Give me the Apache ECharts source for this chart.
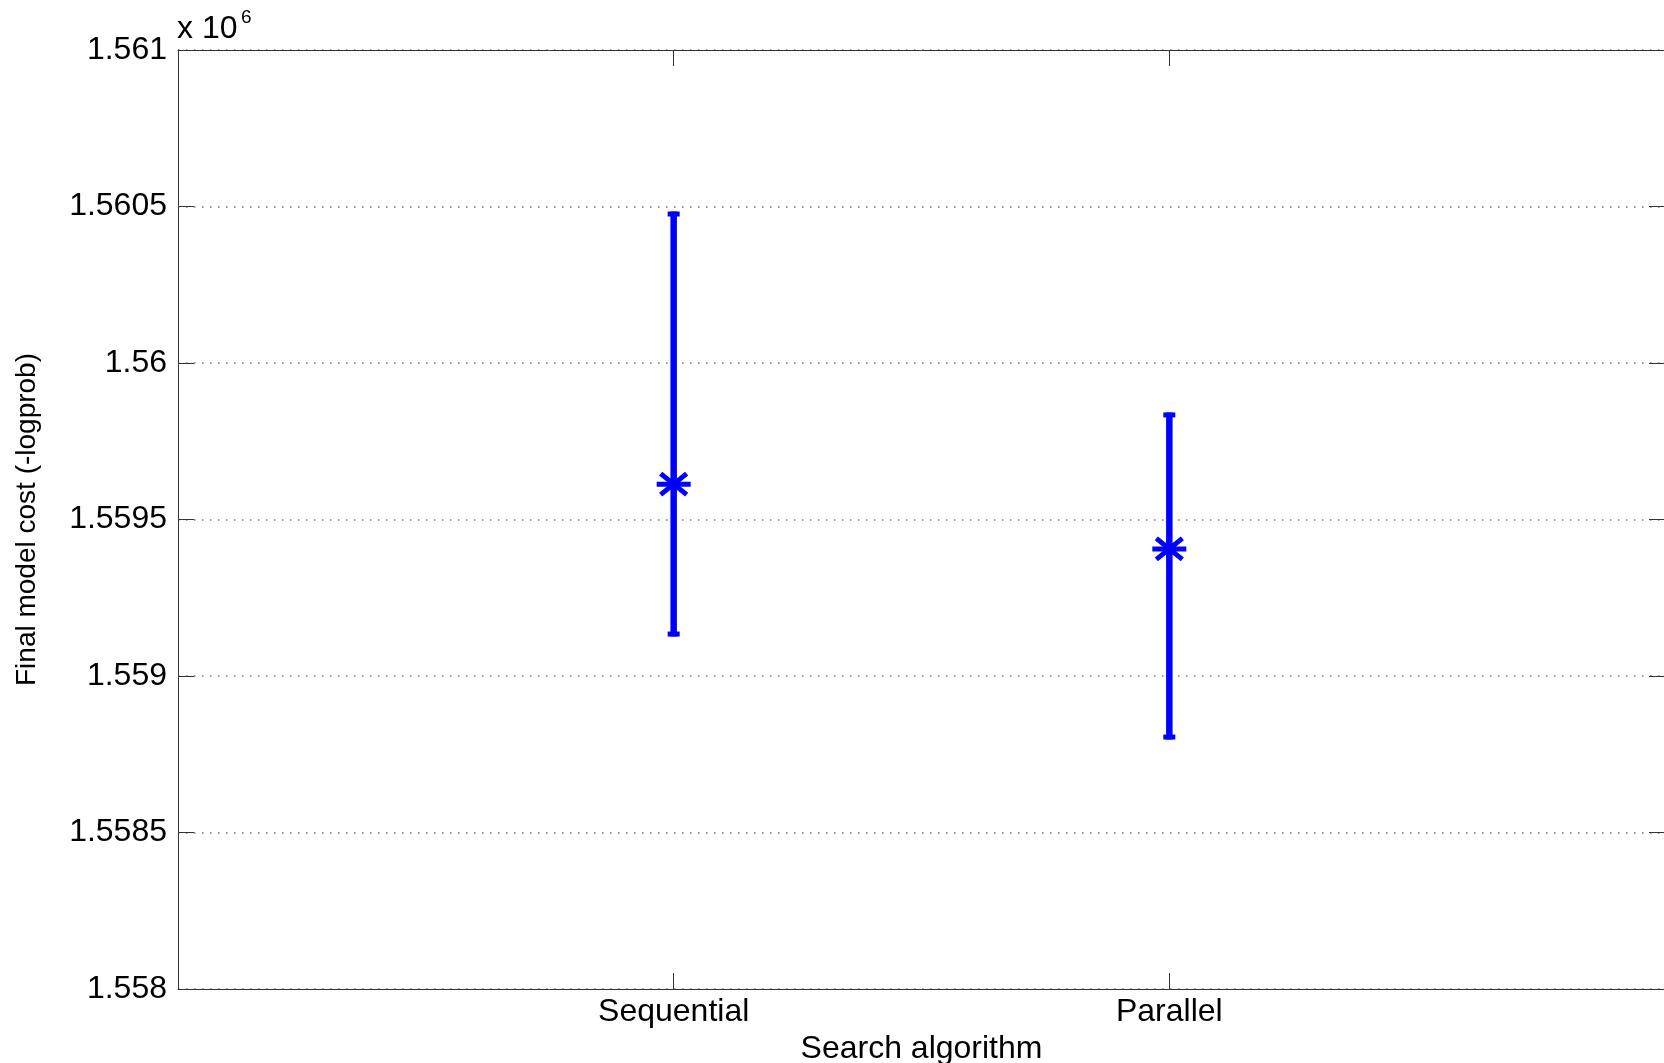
<!DOCTYPE html>
<html>
<head>
<meta charset="utf-8">
<script src="https://cdn.jsdelivr.net/npm/echarts@6/dist/echarts.min.js"></script>
<style>
html,body{margin:0;padding:0;background:#fff;}
#c{width:1664px;height:1063px;}
</style>
</head>
<body>
<div id="c"></div>
<script>
const categories = ['Sequential', 'Parallel'];
const xPositions = [1, 2];
const means = [1559613, 1559406];
const upper = [1560476, 1559834];
const lower = [1559134, 1558805];
const yTicks = [1558000, 1558500, 1559000, 1559500, 1560000, 1560500, 1561000];

const FONT = '"Liberation Sans", Arial, sans-serif';
const blue = '#0000ff';
const axisColor = '#333333';

const data = xPositions.map((x, i) => [x, means[i], lower[i], upper[i]]);

const chart = echarts.init(document.getElementById('c'));

function catLabel(v) {
  const idx = xPositions.indexOf(v);
  return idx >= 0 ? categories[idx] : '';
}
function yLabel(v) {
  return parseFloat((v / 1e6).toFixed(4)).toString();
}

chart.setOption({
  animation: false,
  backgroundColor: '#ffffff',
  grid: { left: 178, top: 50, right: -1, bottom: 74, containLabel: false, outerBoundsMode: 'none' },
  xAxis: [
    {
      type: 'value', min: 0, max: 3, interval: 1, position: 'bottom',
      name: 'Search algorithm', nameLocation: 'middle', nameGap: 42,
      nameTextStyle: { fontFamily: FONT, fontSize: 32, color: '#000' },
      axisLine: { show: true, onZero: false, lineStyle: { color: axisColor, width: 1 } },
      axisTick: { show: true, inside: true, length: 16, customValues: xPositions, lineStyle: { color: axisColor, width: 1 } },
      axisLabel: { show: true, customValues: xPositions, formatter: catLabel, fontFamily: FONT, fontSize: 32, color: '#000', margin: 7 },
      splitLine: { show: false }
    },
    {
      type: 'value', min: 0, max: 3, interval: 1, position: 'top',
      axisLine: { show: true, onZero: false, lineStyle: { color: axisColor, width: 1 } },
      axisTick: { show: true, inside: true, length: 16, customValues: xPositions, lineStyle: { color: axisColor, width: 1 } },
      axisLabel: { show: false },
      splitLine: { show: false }
    }
  ],
  yAxis: [
    {
      type: 'value', min: yTicks[0], max: yTicks[yTicks.length - 1], interval: 500, position: 'left',
      name: 'Final model cost (-logprob)', nameLocation: 'middle', nameGap: 137, nameRotate: 90,
      nameTextStyle: { fontFamily: FONT, fontSize: 28, color: '#000' },
      axisLine: { show: true, onZero: false, lineStyle: { color: axisColor, width: 1 } },
      axisTick: { show: true, inside: true, length: 16, lineStyle: { color: axisColor, width: 1 } },
      axisLabel: { show: true, inside: false, formatter: yLabel, fontFamily: FONT, fontSize: 32, color: '#000', margin: 11 },
      splitLine: { show: true, lineStyle: { color: '#777777', width: 1.5, type: [1.5, 6.5] } }
    },
    {
      type: 'value', min: yTicks[0], max: yTicks[yTicks.length - 1], interval: 500, position: 'right',
      axisLine: { show: true, onZero: false, lineStyle: { color: axisColor, width: 1 } },
      axisTick: { show: true, inside: true, length: 16, lineStyle: { color: axisColor, width: 1 } },
      axisLabel: { show: false },
      splitLine: { show: false }
    }
  ],
  graphic: [
    { type: 'text', left: 177, top: 13, style: { text: 'x 10', fontFamily: FONT, fontSize: 32, fill: '#000' } },
    { type: 'text', left: 241, top: 8, style: { text: '6', fontFamily: FONT, fontSize: 19, fill: '#000' } }
  ],
  series: [{
    type: 'custom',
    xAxisIndex: 0,
    yAxisIndex: 0,
    encode: { x: 0, y: [1, 2, 3] },
    data: data,
    renderItem: function (params, api) {
      const x = api.value(0);
      const pm = api.coord([x, api.value(1)]);
      const pl = api.coord([x, api.value(2)]);
      const ph = api.coord([x, api.value(3)]);
      const cx = pm[0], cy = pm[1];
      const st = { stroke: blue, lineWidth: 6.5, lineCap: 'butt' };
      const sa = { stroke: blue, lineWidth: 5, lineCap: 'butt' };
      return {
        type: 'group',
        children: [
          { type: 'line', shape: { x1: pl[0], y1: pl[1] + 2.5, x2: ph[0], y2: ph[1] - 2.5 }, style: st },
          { type: 'line', shape: { x1: ph[0] - 6, y1: ph[1], x2: ph[0] + 6, y2: ph[1] }, style: { stroke: blue, lineWidth: 5 } },
          { type: 'line', shape: { x1: pl[0] - 6, y1: pl[1], x2: pl[0] + 6, y2: pl[1] }, style: { stroke: blue, lineWidth: 5 } },
          { type: 'line', shape: { x1: cx - 17, y1: cy, x2: cx + 17, y2: cy }, style: sa },
          { type: 'line', shape: { x1: cx - 13, y1: cy - 10.5, x2: cx + 13, y2: cy + 10.5 }, style: sa },
          { type: 'line', shape: { x1: cx - 13, y1: cy + 10.5, x2: cx + 13, y2: cy - 10.5 }, style: sa },
          { type: 'line', shape: { x1: cx, y1: cy - 12, x2: cx, y2: cy + 12 }, style: sa }
        ]
      };
    }
  }]
});
</script>
</body>
</html>
